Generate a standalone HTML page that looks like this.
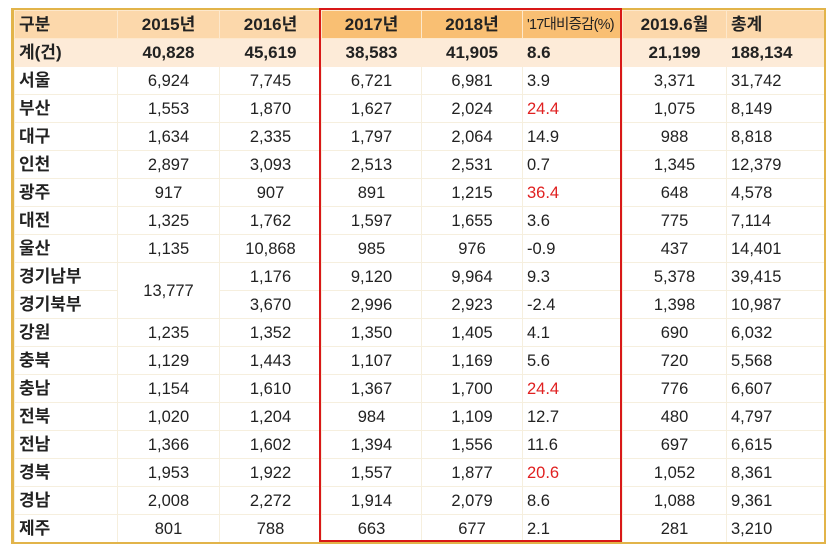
<!DOCTYPE html>
<html><head><meta charset="utf-8"><style>
body{margin:0;background:#fff;width:831px;height:551px;overflow:hidden;font-family:"Liberation Sans","Noto Sans CJK KR",sans-serif;}
.wrap{position:absolute;left:11px;top:8px;width:810px;height:532px;border:2px solid #e2b44a;border-left-width:3px;box-sizing:content-box;overflow:hidden;}
table{border-collapse:collapse;table-layout:fixed;width:810px;}
td{height:28px;padding:0 4px;font-size:16.5px;color:#222;border:1px solid #f6efde;text-align:center;white-space:nowrap;overflow:hidden;line-height:20px;box-sizing:border-box;}
td.l{text-align:left}
tr.h td{background:#fcd8ab;font-weight:bold;font-size:17px;border-color:#fde8cc}
tr.h td.o{background:#f9bf73}
tr.t td{background:#fdebd8;font-weight:bold;font-size:17px;border-color:#fdebd8}
td.k{font-weight:bold;text-align:left;font-size:17px}
.r{color:#e02020}
.box{position:absolute;left:319px;top:8px;width:299px;height:530px;border:2px solid #d81818;}
</style></head><body>
<div class="wrap">
<table>
<colgroup><col style="width:103px"><col style="width:102px"><col style="width:102px"><col style="width:100px"><col style="width:101px"><col style="width:100px"><col style="width:104px"><col style="width:98px"></colgroup>
<tr class="h"><td class="l">구분</td><td>2015년</td><td>2016년</td><td class="o">2017년</td><td class="o">2018년</td><td class="o l" style="font-size:14.5px;letter-spacing:-0.8px;font-weight:normal">'17대비증감(%)</td><td>2019.6월</td><td class="l">총계</td></tr>
<tr class="t"><td class="l">계(건)</td><td>40,828</td><td>45,619</td><td>38,583</td><td>41,905</td><td class="l">8.6</td><td>21,199</td><td class="l">188,134</td></tr>
<tr><td class="k">서울</td><td>6,924</td><td>7,745</td><td>6,721</td><td>6,981</td><td class="l">3.9</td><td>3,371</td><td class="l">31,742</td></tr>
<tr><td class="k">부산</td><td>1,553</td><td>1,870</td><td>1,627</td><td>2,024</td><td class="l r">24.4</td><td>1,075</td><td class="l">8,149</td></tr>
<tr><td class="k">대구</td><td>1,634</td><td>2,335</td><td>1,797</td><td>2,064</td><td class="l">14.9</td><td>988</td><td class="l">8,818</td></tr>
<tr><td class="k">인천</td><td>2,897</td><td>3,093</td><td>2,513</td><td>2,531</td><td class="l">0.7</td><td>1,345</td><td class="l">12,379</td></tr>
<tr><td class="k">광주</td><td>917</td><td>907</td><td>891</td><td>1,215</td><td class="l r">36.4</td><td>648</td><td class="l">4,578</td></tr>
<tr><td class="k">대전</td><td>1,325</td><td>1,762</td><td>1,597</td><td>1,655</td><td class="l">3.6</td><td>775</td><td class="l">7,114</td></tr>
<tr><td class="k">울산</td><td>1,135</td><td>10,868</td><td>985</td><td>976</td><td class="l">-0.9</td><td>437</td><td class="l">14,401</td></tr>
<tr><td class="k">경기남부</td><td rowspan="2">13,777</td><td>1,176</td><td>9,120</td><td>9,964</td><td class="l">9.3</td><td>5,378</td><td class="l">39,415</td></tr>
<tr><td class="k">경기북부</td><td>3,670</td><td>2,996</td><td>2,923</td><td class="l">-2.4</td><td>1,398</td><td class="l">10,987</td></tr>
<tr><td class="k">강원</td><td>1,235</td><td>1,352</td><td>1,350</td><td>1,405</td><td class="l">4.1</td><td>690</td><td class="l">6,032</td></tr>
<tr><td class="k">충북</td><td>1,129</td><td>1,443</td><td>1,107</td><td>1,169</td><td class="l">5.6</td><td>720</td><td class="l">5,568</td></tr>
<tr><td class="k">충남</td><td>1,154</td><td>1,610</td><td>1,367</td><td>1,700</td><td class="l r">24.4</td><td>776</td><td class="l">6,607</td></tr>
<tr><td class="k">전북</td><td>1,020</td><td>1,204</td><td>984</td><td>1,109</td><td class="l">12.7</td><td>480</td><td class="l">4,797</td></tr>
<tr><td class="k">전남</td><td>1,366</td><td>1,602</td><td>1,394</td><td>1,556</td><td class="l">11.6</td><td>697</td><td class="l">6,615</td></tr>
<tr><td class="k">경북</td><td>1,953</td><td>1,922</td><td>1,557</td><td>1,877</td><td class="l r">20.6</td><td>1,052</td><td class="l">8,361</td></tr>
<tr><td class="k">경남</td><td>2,008</td><td>2,272</td><td>1,914</td><td>2,079</td><td class="l">8.6</td><td>1,088</td><td class="l">9,361</td></tr>
<tr><td class="k">제주</td><td>801</td><td>788</td><td>663</td><td>677</td><td class="l">2.1</td><td>281</td><td class="l">3,210</td></tr>
</table>
</div>
<div class="box"></div>
</body></html>
